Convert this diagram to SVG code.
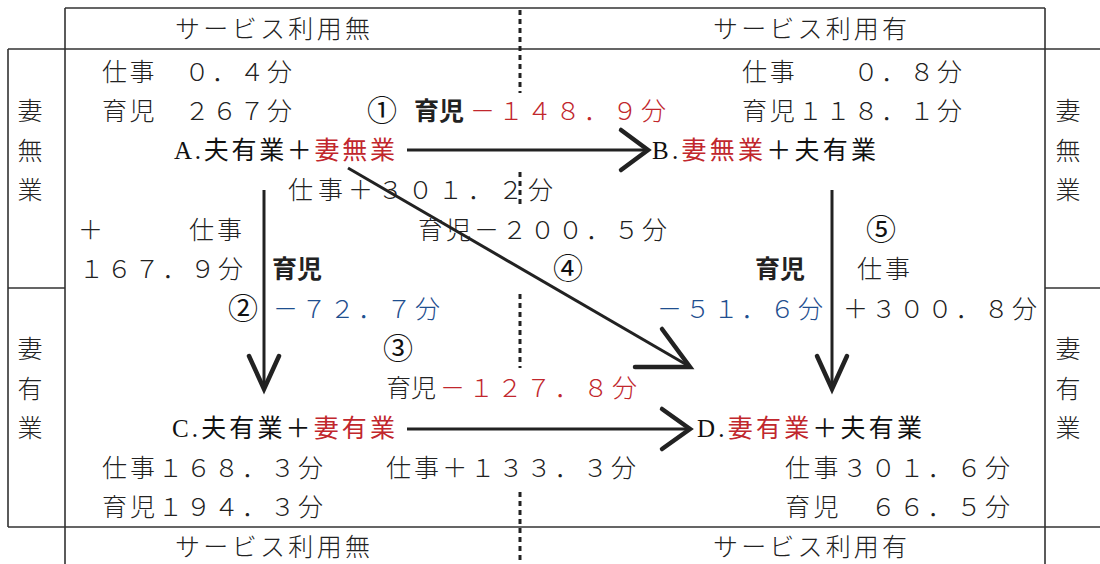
<svg xmlns="http://www.w3.org/2000/svg" width="1100" height="564" viewBox="0 0 1100 564">
<style>
text{font-family:"Noto Sans CJK JP","Noto Sans CJK SC",sans-serif;font-size:25px;fill:#222;font-weight:300}
.b{font-weight:700}
.m{font-weight:400;fill:#111}
.c{font-size:30px;font-weight:400;fill:#111}
.r{fill:#c1272d}
.bl{fill:#1f4f8f}
.lat{font-family:"Liberation Serif",serif}
.frame{stroke:#333;stroke-width:1.6;fill:none}
.dot{stroke:#222;stroke-width:3;stroke-dasharray:5 4;fill:none}
.ln{stroke:#222;stroke-width:3;fill:none}
.hd{stroke:#222;stroke-width:4.5;fill:none;stroke-linecap:round;stroke-linejoin:miter}
</style>
<rect width="1100" height="564" fill="#fff"/>
<g id="frame">
<path class="frame" d="M65,8 H1045 M8,49 H1100 M8,527 H1100 M65,8 V564 M1045,8 V564 M8,49 V527 M8,288 H65 M1045,288 H1100"/>
<path class="dot" d="M520,10 V93 M520,172 V208 M520,294 V368 M520,492 V564"/>
<text x="175" y="38" textLength="195" lengthAdjust="spacing">サービス利用無</text>
<text x="713" y="38" textLength="194" lengthAdjust="spacing">サービス利用有</text>
<text x="175" y="556" textLength="195" lengthAdjust="spacing">サービス利用無</text>
<text x="713" y="556" textLength="194" lengthAdjust="spacing">サービス利用有</text>
<g text-anchor="middle">
<text x="30" y="120">妻</text><text x="30" y="160">無</text><text x="30" y="199">業</text>
<text x="30" y="358">妻</text><text x="30" y="398">有</text><text x="30" y="437">業</text>
<text x="1068" y="120">妻</text><text x="1068" y="160">無</text><text x="1068" y="199">業</text>
<text x="1068" y="358">妻</text><text x="1068" y="398">有</text><text x="1068" y="437">業</text>
</g>
</g>
<g id="nodeA">
<text x="102" y="81" textLength="190" lengthAdjust="spacing">仕事　０．４分</text>
<text x="102" y="120" textLength="190" lengthAdjust="spacing">育児　２６７分</text>
<text x="174" y="159" class="m" textLength="221" lengthAdjust="spacing"><tspan class="lat">A.</tspan>夫有業＋<tspan class="r">妻無業</tspan></text>
</g>
<g id="nodeB">
<text x="742" y="81" textLength="220" lengthAdjust="spacing">仕事　　０．８分</text>
<text x="742" y="120" textLength="220" lengthAdjust="spacing">育児１１８．１分</text>
<text x="652" y="159" class="m" textLength="224" lengthAdjust="spacing"><tspan class="lat">B.</tspan><tspan class="r">妻無業</tspan>＋夫有業</text>
</g>
<g id="nodeC">
<text x="172" y="437" class="m" textLength="223" lengthAdjust="spacing"><tspan class="lat">C.</tspan>夫有業＋<tspan class="r">妻有業</tspan></text>
<text x="102" y="477" textLength="221" lengthAdjust="spacing">仕事１６８．３分</text>
<text x="102" y="516" textLength="221" lengthAdjust="spacing">育児１９４．３分</text>
</g>
<g id="nodeD">
<text x="697" y="437" class="m" textLength="225" lengthAdjust="spacing"><tspan class="lat">D.</tspan><tspan class="r">妻有業</tspan>＋夫有業</text>
<text x="785" y="477" textLength="225" lengthAdjust="spacing">仕事３０１．６分</text>
<text x="785" y="516" textLength="225" lengthAdjust="spacing">育児　６６．５分</text>
</g>
<g id="connectors">
<g id="edgeAB">
<line class="ln" x1="407" y1="150" x2="645" y2="150"/>
<polyline class="hd" points="621,130 648,150 621,170"/>
<text x="367" y="121" class="c">①</text>
<text x="414" y="120" class="b">育児</text>
<text x="470" y="120" class="r" textLength="196" lengthAdjust="spacing">－１４８．９分</text>
</g>
<g id="edgeAC">
<line class="ln" x1="264" y1="190" x2="264" y2="386"/>
<polyline class="hd" points="249,356 264,389 279,356"/>
<text x="78" y="239">＋</text>
<text x="189" y="239" textLength="53" lengthAdjust="spacing">仕事</text>
<text x="79" y="278" textLength="164" lengthAdjust="spacing">１６７．９分</text>
<text x="272" y="278" class="b">育児</text>
<text x="228" y="319" class="c">②</text>
<text x="273" y="318" class="bl" textLength="167" lengthAdjust="spacing">－７２．７分</text>
</g>
<g id="edgeAD">
<line class="ln" x1="348" y1="168" x2="687" y2="365"/>
<polyline class="hd" points="662,329 690,367 635,367"/>
<text x="288" y="199" textLength="265" lengthAdjust="spacing">仕事＋３０１．２分</text>
<text x="418" y="239" textLength="249" lengthAdjust="spacing">育児－２００．５分</text>
<text x="553" y="279" class="c">④</text>
</g>
<g id="edgeBD">
<line class="ln" x1="832" y1="190" x2="832" y2="386"/>
<polyline class="hd" points="817,356 832,389 847,356"/>
<text x="866" y="240" class="c">⑤</text>
<text x="755" y="278" class="b">育児</text>
<text x="857" y="278" textLength="53" lengthAdjust="spacing">仕事</text>
<text x="657" y="318" class="bl" textLength="166" lengthAdjust="spacing">－５１．６分</text>
<text x="843" y="318" textLength="194" lengthAdjust="spacing">＋３００．８分</text>
</g>
<g id="edgeCD">
<line class="ln" x1="407" y1="429" x2="687" y2="429"/>
<polyline class="hd" points="662,409 690,429 662,449"/>
<text x="383" y="359" class="c">③</text>
<text x="386" y="397">育児</text>
<text x="440" y="397" class="r" textLength="197" lengthAdjust="spacing">－１２７．８分</text>
<text x="386" y="477" textLength="250" lengthAdjust="spacing">仕事＋１３３．３分</text>
</g>
</g>
</svg>
